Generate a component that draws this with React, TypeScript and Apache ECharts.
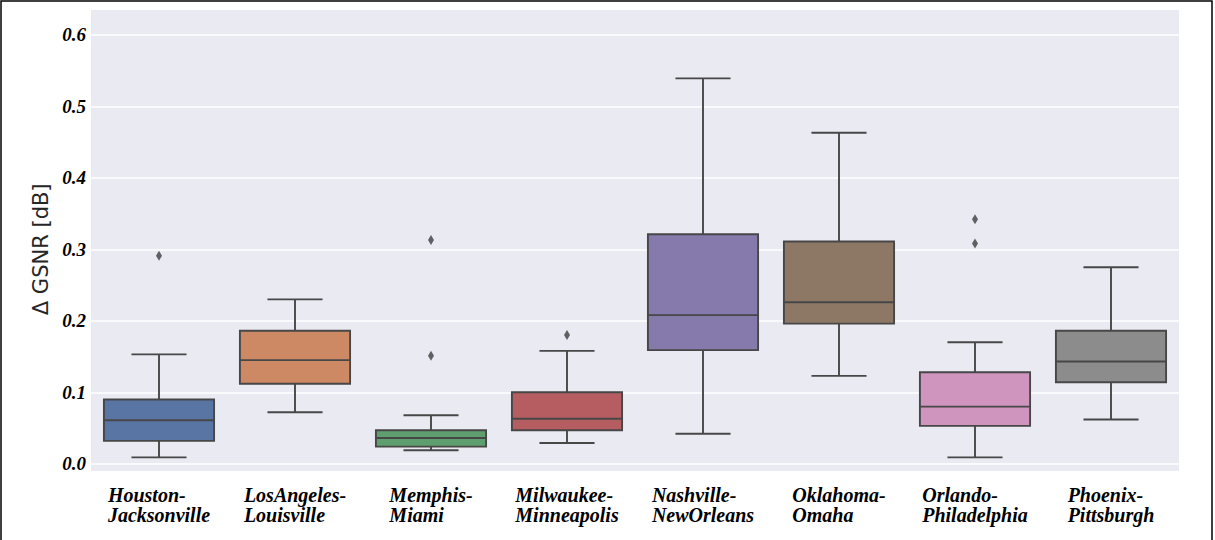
import React, { useEffect, useRef } from "react";
import * as echarts from "echarts";

const categories = [
  "Houston-Jacksonville",
  "LosAngeles-Louisville",
  "Memphis-Miami",
  "Milwaukee-Minneapolis",
  "Nashville-NewOrleans",
  "Oklahoma-Omaha",
  "Orlando-Philadelphia",
  "Phoenix-Pittsburgh",
];
const whiskerLow = [0.009, 0.072, 0.019, 0.029, 0.042, 0.123, 0.009, 0.062];
const q1 = [0.032, 0.112, 0.024, 0.047, 0.159, 0.196, 0.053, 0.114];
const median = [0.061, 0.145, 0.036, 0.063, 0.208, 0.226, 0.080, 0.143];
const q3 = [0.090, 0.186, 0.047, 0.100, 0.321, 0.311, 0.128, 0.186];
const whiskerHigh = [0.153, 0.230, 0.068, 0.158, 0.539, 0.463, 0.170, 0.275];
const outliers: [number, number][] = [
  [0, 0.291],
  [2, 0.313],
  [2, 0.151],
  [3, 0.18],
  [6, 0.342],
  [6, 0.308],
];
const boxColors = ["#5975a4", "#cc8963", "#5f9e6e", "#b55d60", "#857aab", "#8d7866", "#d095bf", "#8c8c8c"];
const yTicks = [0, 0.1, 0.2, 0.3, 0.4, 0.5, 0.6];

const LINE = "#474747";

export default function App() {
  const ref = useRef<HTMLDivElement>(null);
  useEffect(() => {
    if (!ref.current) return;
    const chart = echarts.init(ref.current, null, { renderer: "svg" });
    const boxData = categories.map((_, i) => [i, whiskerLow[i], q1[i], median[i], q3[i], whiskerHigh[i]]);
    chart.setOption({
      animation: false,
      backgroundColor: "#ffffff",
      grid: { left: 91, right: 36, top: 34.8, bottom: 76.2 },
      graphic: [
        {
          type: "rect",
          z: -100,
          silent: true,
          shape: { x: 91, y: 10, width: 1088, height: 461 },
          style: { fill: "#eaeaf2" },
        },
        {
          type: "rect",
          z: 100,
          silent: true,
          shape: { x: 1, y: 1, width: 1211, height: 560 },
          style: { fill: "none", stroke: "#000000", lineWidth: 1.5 },
        },
      ],
      xAxis: {
        type: "category",
        data: categories,
        boundaryGap: true,
        axisLine: { show: false },
        axisTick: { show: false },
        splitLine: { show: false },
        axisLabel: {
          interval: 0,
          margin: 21,
          align: "center",
          formatter: (v: string) => {
            const k = v.indexOf("-");
            return `{a|${v.slice(0, k + 1)}}\n{a|${v.slice(k + 1)}}`;
          },
          rich: {
            a: {
              fontFamily: "Liberation Serif",
              fontWeight: "bold",
              fontStyle: "italic",
              fontSize: 20,
              lineHeight: 20,
              color: "#000000",
              align: "left",
            },
          },
        },
      },
      yAxis: {
        type: "value",
        min: yTicks[0],
        max: yTicks[yTicks.length - 1],
        interval: 0.1,
        name: "\u0394 GSNR [dB]",
        nameLocation: "middle",
        nameGap: 38,
        nameTextStyle: { fontFamily: "DejaVu Sans", fontSize: 21, color: "#262626" },
        axisLine: { show: false },
        axisTick: { show: false },
        splitLine: { show: true, lineStyle: { color: "#ffffff", width: 1.5 } },
        axisLabel: {
          margin: 5,
          fontFamily: "Liberation Serif",
          fontWeight: "bold",
          fontStyle: "italic",
          fontSize: 19,
          color: "#000000",
          formatter: (v: number) => v.toFixed(1),
        },
      },
      series: [
        {
          type: "custom",
          data: boxData,
          encode: { x: 0, y: [1, 2, 3, 4, 5] },
          renderItem: (params: any, api: any) => {
            const x = api.value(0);
            const lw = api.coord([x, api.value(1)]);
            const b1 = api.coord([x, api.value(2)]);
            const md = api.coord([x, api.value(3)]);
            const b3 = api.coord([x, api.value(4)]);
            const uw = api.coord([x, api.value(5)]);
            const band = api.size([1, 0])[0];
            const bw = band * 0.81;
            const cw = bw * 0.5;
            const cx = lw[0];
            const ls = { stroke: LINE, lineWidth: 1.9 };
            return {
              type: "group",
              children: [
                { type: "line", shape: { x1: cx, y1: b1[1], x2: cx, y2: lw[1] }, style: ls },
                { type: "line", shape: { x1: cx, y1: b3[1], x2: cx, y2: uw[1] }, style: ls },
                { type: "line", shape: { x1: cx - cw / 2, y1: lw[1], x2: cx + cw / 2, y2: lw[1] }, style: ls },
                { type: "line", shape: { x1: cx - cw / 2, y1: uw[1], x2: cx + cw / 2, y2: uw[1] }, style: ls },
                {
                  type: "rect",
                  shape: { x: cx - bw / 2, y: b3[1], width: bw, height: b1[1] - b3[1] },
                  style: { fill: boxColors[params.dataIndex], stroke: LINE, lineWidth: 1.9 },
                },
                { type: "line", shape: { x1: cx - bw / 2, y1: md[1], x2: cx + bw / 2, y2: md[1] }, style: ls },
              ],
            };
          },
        },
        {
          type: "scatter",
          data: outliers,
          symbol: "diamond",
          symbolSize: [6, 10],
          itemStyle: { color: "#3d3d3d" },
          z: 5,
        },
      ],
    });
    return () => chart.dispose();
  }, []);
  return <div ref={ref} style={{ position: "fixed", left: 0, top: 0, width: 1215, height: 540 }} />;
}
